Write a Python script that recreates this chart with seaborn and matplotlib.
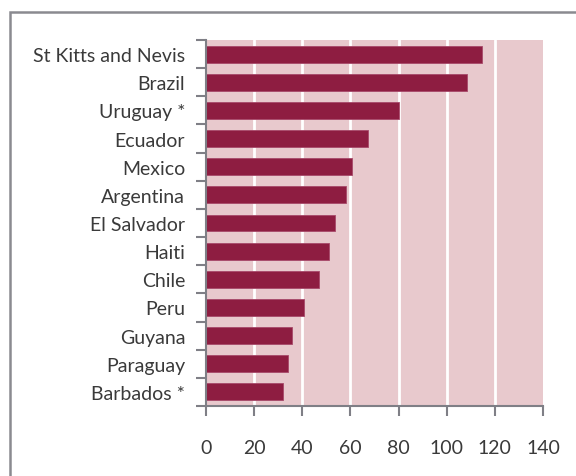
import numpy as np
import pandas as pd
import seaborn as sns
import matplotlib.pyplot as plt
from matplotlib.patches import Rectangle

countries = ['St Kitts and Nevis', 'Brazil', 'Uruguay *', 'Ecuador', 'Mexico',
             'Argentina', 'El Salvador', 'Haiti', 'Chile', 'Peru', 'Guyana',
             'Paraguay', 'Barbados *']
values = [114.8, 108.3, 80.0, 67.2, 60.8, 58.3, 53.5, 51.1, 47.1, 40.6, 35.9, 34.2, 32.0]
xticks = [0, 20, 40, 60, 80, 100, 120, 140]

df = pd.DataFrame({'country': countries, 'value': values})

sns.set_style('white')
plt.rcParams['font.family'] = ['Lato', 'DejaVu Sans']

fig = plt.figure(figsize=(5.76, 4.77), dpi=100)
ax = fig.add_axes([206 / 576, 1 - 407 / 477, 337 / 576, 366 / 477])
ax.set_facecolor('#e8c9cd')

sns.barplot(data=df, x='value', y='country', ax=ax, color='#8e1d41',
            saturation=1, width=0.6, edgecolor='#a8496a', linewidth=0.6)

ax.set_xlim(0, 140)
ax.set_ylim(12.5, -0.5)
ax.set_xticks(xticks)
ax.set_xticklabels([str(t) for t in xticks], fontsize=14, color='#3a3a3a')
for t in xticks[1:-1]:
    ax.axvline(t, color='white', lw=2, zorder=0.5)
ax.set_axisbelow(True)

# category labels, ticks at boundaries between bars
ax.set_yticks(range(len(countries)))
ax.set_yticklabels(countries, fontsize=14, color='#3a3a3a')
ax.set_yticks(np.arange(-0.5, len(countries)), minor=True)
ax.tick_params(axis='y', which='major', length=0, pad=15)
ax.tick_params(axis='y', which='minor', length=7, width=1.5, color='#7f7f86', left=True)
ax.tick_params(axis='x', length=7, width=1.5, color='#7f7f86', pad=17, bottom=True)

for side in ['top', 'right']:
    ax.spines[side].set_visible(False)
for side in ['left', 'bottom']:
    ax.spines[side].set_color('#7f7f86')
    ax.spines[side].set_linewidth(1.5)
ax.set_xlabel('')
ax.set_ylabel('')

# outer frame
fig.patches.append(Rectangle((10 / 576, -0.1), 1.2, 1.1 - 13 / 477, transform=fig.transFigure,
                             fill=False, edgecolor='#8a8a90', lw=1.8))

fig.savefig('out.png', dpi=100)
